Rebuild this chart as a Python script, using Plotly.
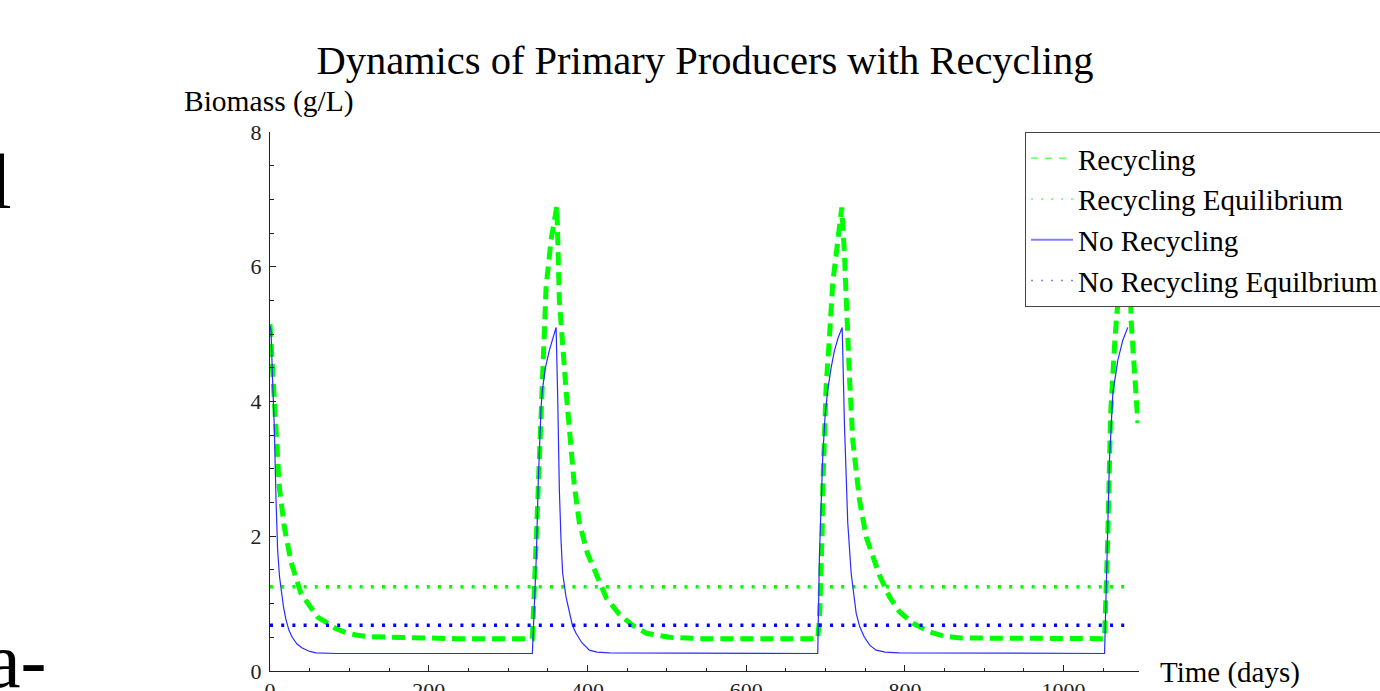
import plotly.graph_objects as go

# ---------------- data ----------------
t_norec = [0, 1.3, 3, 5.4, 7.6, 9.6, 12, 13.9, 17, 20.2, 24, 28, 34, 40.7, 50, 58, 84, 330.6,
           333, 335.6, 338, 339.4, 341.5, 343.2, 347, 352, 356, 360.5,
           362.5, 364.6, 366.7, 368.8, 373, 377.2, 381, 385.6, 393, 402.4, 412, 427.6, 690.2,
           692.3, 694.5, 696.5, 699.5, 702.8, 707, 711.3, 716, 721,
           723.8, 728, 732.3, 738.6, 743, 749, 756, 763.8, 775, 793, 1051.6,
           1053.7, 1055.7, 1057.8, 1062, 1068.3, 1074.6, 1080.9]
b_norec = [5.12, 5.06, 4.4, 3.62, 2.54, 1.8, 1.4, 1.2, 0.95, 0.76, 0.6, 0.5, 0.4, 0.34, 0.29, 0.27, 0.26, 0.26,
           0.9, 1.7, 2.8, 3.4, 3.9, 4.17, 4.5, 4.76, 4.93, 5.1,
           4.07, 2.69, 1.94, 1.45, 1.1, 0.86, 0.68, 0.56, 0.42, 0.31, 0.28, 0.27, 0.26,
           1.7, 2.5, 3.18, 3.8, 4.17, 4.5, 4.76, 4.95, 5.1,
           3.68, 2.2, 1.45, 0.86, 0.66, 0.5, 0.38, 0.31, 0.28, 0.27, 0.26,
           1.16, 2.14, 3.13, 4.12, 4.61, 4.91, 5.1]

t_rec = [0, 2, 4.2, 7.6, 11.7, 18, 26.5, 39, 53, 60, 71, 83, 96, 110, 125, 150, 175, 235, 330.6,
         333, 335.6, 339.4, 343.6, 347.9, 354.2, 361.5,
         364.6, 368.4, 373.5, 377.2, 383.5, 389.8, 399.9, 412.5, 423.9, 440.3, 456.7, 474.4, 503.3, 545, 690.2,
         692.5, 694.5, 695.7, 696.5, 698.7, 700.8, 705, 709.1, 715.5, 720.5,
         723.8, 726, 730.2, 734.3, 742.8, 751.2, 759.5, 768, 780.6, 793.2, 810, 831, 848, 870, 1051.6,
         1053.7, 1055.7, 1059.2, 1061, 1064.2, 1066.7, 1071.6, 1077, 1081.3, 1085.2, 1089.4, 1092.8, 1093.6]
b_rec = [5.15, 4.75, 4.2, 3.4, 2.73, 2.14, 1.62, 1.15, 0.9, 0.8, 0.72, 0.63, 0.57, 0.53, 0.51, 0.5, 0.49, 0.48, 0.48,
         1.2, 2.2, 3.55, 4.7, 5.7, 6.4, 6.9,
         5.5, 4.8, 4.1, 3.6, 2.75, 2.2, 1.75, 1.4, 1.08, 0.84, 0.68, 0.56, 0.5, 0.48, 0.48,
         0.8, 1.33, 2.04, 2.71, 3.62, 4.24, 4.96, 5.76, 6.39, 6.88,
         6.2, 5.36, 4.36, 3.43, 2.54, 1.99, 1.68, 1.42, 1.1, 0.88, 0.71, 0.58, 0.52, 0.49, 0.48,
         1.1, 2.0, 3.8, 4.29, 4.84, 5.24, 5.9, 6.4, 6.88, 5.18, 4.39, 3.84, 3.68]

t_eq = [0, 1083]
rec_eq = [1.25, 1.25]
norec_eq = [0.68, 0.68]

x_ticks = [0, 200, 400, 600, 800, 1000]
y_ticks = [0, 2, 4, 6, 8]

names = ["Recycling", "Recycling Equilibrium", "No Recycling", "No Recycling Equilbrium"]
title_text = "Dynamics of Primary Producers with Recycling"

assert len(t_norec) == len(b_norec)
assert len(t_rec) == len(b_rec)

SERIF = "Liberation Serif, Times New Roman, serif"
GREEN = "#00ff00"
BLUE = "#0000ff"

fig = go.Figure()

# plotted curves (legend drawn with thin samples below)
fig.add_trace(go.Scatter(x=t_rec, y=b_rec, mode="lines", showlegend=False,
                         line=dict(color=GREEN, width=5, dash="13px,7px")))
fig.add_trace(go.Scatter(x=t_eq, y=rec_eq, mode="lines", showlegend=False,
                         line=dict(color=GREEN, width=3.5, dash="3px,8.2px")))
fig.add_trace(go.Scatter(x=t_norec, y=b_norec, mode="lines", showlegend=False,
                         line=dict(color="#2b2bff", width=1.2)))
fig.add_trace(go.Scatter(x=t_eq, y=norec_eq, mode="lines", showlegend=False,
                         line=dict(color=BLUE, width=3.5, dash="3px,8.2px")))

# legend samples
fig.add_trace(go.Scatter(x=[None], y=[None], mode="lines", name=names[0],
                         line=dict(color="#66ff66", width=1.5, dash="7px,7px")))
fig.add_trace(go.Scatter(x=[None], y=[None], mode="lines", name=names[1],
                         line=dict(color="#66ff66", width=1.5, dash="2px,8px")))
fig.add_trace(go.Scatter(x=[None], y=[None], mode="lines", name=names[2],
                         line=dict(color="#8080ff", width=2)))
fig.add_trace(go.Scatter(x=[None], y=[None], mode="lines", name=names[3],
                         line=dict(color="#8080ff", width=1.5, dash="2px,8px")))

axis_common = dict(showline=True, linecolor="#222", linewidth=1, mirror=False,
                   ticks="inside", ticklen=6, tickwidth=1, tickcolor="#222",
                   showgrid=False, zeroline=False,
                   tickfont=dict(family=SERIF, size=22, color="#222"))

fig.update_xaxes(range=[0, 1095], tickmode="array", tickvals=x_ticks,
                 minor=dict(ticks="inside", dtick=50, tick0=0, ticklen=3.5, tickcolor="#222"),
                 **axis_common)
fig.update_yaxes(range=[0, 8], tickmode="array", tickvals=y_ticks,
                 minor=dict(ticks="inside", dtick=0.5, tick0=0, ticklen=3.5, tickcolor="#222"),
                 ticklabelstandoff=3,
                 **axis_common)

L, R, T, B = 270, 241, 132, 20
W, H = 1380, 691
pw, ph = W - L - R, H - T - B

def px(xp):
    return (xp - L) / pw

def py(yp):
    return (H - B - yp) / ph

fig.update_layout(
    width=W, height=H,
    margin=dict(l=L, r=R, t=T, b=B, autoexpand=False),
    paper_bgcolor="white", plot_bgcolor="white",
    title=dict(text=title_text, x=705 / W, xref="container", xanchor="center",
               y=1 - 60 / H, yref="container", yanchor="middle",
               font=dict(family=SERIF, size=40.5, color="black")),
    legend=dict(x=px(1025), y=py(132), xanchor="left", yanchor="top",
                bgcolor="white", bordercolor="#444", borderwidth=1,
                font=dict(family=SERIF, size=29, color="black"),
                itemwidth=42, tracegroupgap=0),
    annotations=[
        dict(text="Biomass (g/L)", xref="paper", yref="paper", x=px(269), y=py(102),
             xanchor="center", yanchor="middle", showarrow=False,
             font=dict(family=SERIF, size=29.5, color="black")),
        dict(text="Time (days)", xref="paper", yref="paper", x=px(1158), y=py(672),
             xanchor="left", yanchor="middle", showarrow=False,
             font=dict(family=SERIF, size=29, color="black")),
        dict(text="l", xref="paper", yref="paper", x=px(-12), y=py(181),
             xanchor="left", yanchor="middle", showarrow=False,
             font=dict(family=SERIF, size=78, color="black")),
        dict(text="a-", xref="paper", yref="paper", x=px(-16), y=py(660),
             xanchor="left", yanchor="middle", showarrow=False,
             font=dict(family=SERIF, size=78, color="black")),
    ],
)

fig.write_html("out.html")
